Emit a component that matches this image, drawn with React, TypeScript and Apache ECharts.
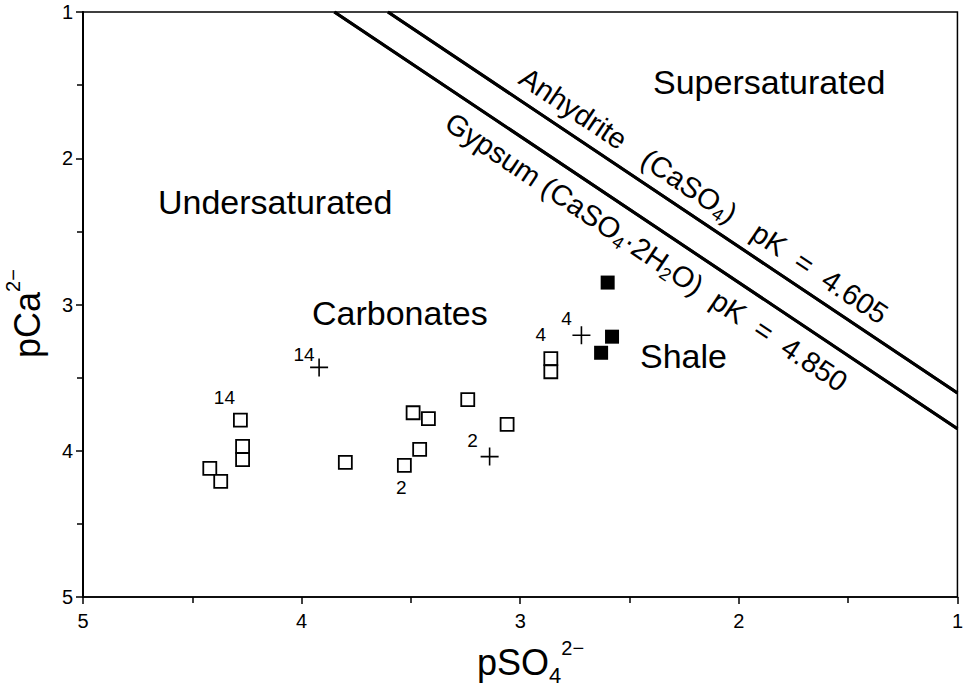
import React, { useEffect, useRef } from "react";
import * as echarts from "echarts";

// Carbonate samples (open squares): pSO4, pCa
const carbonateX = [4.28, 4.27, 4.27, 4.42, 4.37, 3.80, 3.49, 3.42, 3.46, 3.53, 3.24, 3.06, 2.86, 2.86];
const carbonateY = [3.79, 3.97, 4.06, 4.12, 4.21, 4.08, 3.74, 3.78, 3.99, 4.10, 3.65, 3.82, 3.37, 3.46];
const carbonateTag = ["14", "", "", "", "", "", "", "", "", "2", "", "", "4", ""];

// Crosses
const crossX = [3.92, 3.14, 2.72];
const crossY = [3.43, 4.04, 3.21];
const crossTag = ["14", "2", "4"];

// Shale samples (filled squares)
const shaleX = [2.60, 2.58, 2.63];
const shaleY = [2.85, 3.22, 3.33];

// Saturation lines (pCa + pSO4 = pK)
const anhydriteLine = [[3.605, 1], [1, 3.605]];
const gypsumLine = [[3.85, 1], [1, 3.85]];
const anhydriteText = "Anhydrite   (CaSO{s|4})   pK  =  4.605";
const gypsumText = "Gypsum (CaSO{s|4}·2H{s|2}O)  pK  =  4.850";

const axisMin = 1;
const axisMax = 5;
const axisStep = 1;

const FONT = "'Liberation Sans', Arial, Helvetica, sans-serif";

export default function App() {
  const ref = useRef<HTMLDivElement>(null);

  useEffect(() => {
    const chart = echarts.init(ref.current!, null, { renderer: "svg" });

    const tagOffsetSquare: Record<number, [number, number]> = {
      0: [-16, -23],
      9: [-3, 22],
      12: [-10, -24],
    };
    const tagOffsetCross: [number, number][] = [[-15, -13], [-17, -16], [-15, -17]];

    const tagLabel = (text: string, offset: [number, number]) => ({
      show: text !== "",
      formatter: text,
      position: "inside",
      offset,
      color: "#000",
      fontSize: 19,
      fontFamily: FONT,
    });

    const carbonateData = carbonateX.map((x, i) => ({
      value: [x, carbonateY[i]],
      label: tagLabel(carbonateTag[i], tagOffsetSquare[i] || [0, 0]),
    }));
    const crossData = crossX.map((x, i) => ({
      value: [x, crossY[i]],
      label: tagLabel(crossTag[i], tagOffsetCross[i]),
    }));
    const shaleData = shaleX.map((x, i) => [x, shaleY[i]]);

    const axisCommon = {
      type: "value" as const,
      min: axisMin,
      max: axisMax,
      interval: axisStep,
      inverse: true,
      splitLine: { show: false },
      minorSplitLine: { show: false },
      minorTick: { show: true, splitNumber: 2, length: 6, lineStyle: { color: "#000", width: 1.5 } },
      axisTick: { show: true, length: 7, lineStyle: { color: "#000", width: 1.5 } },
    };

    const lineLabelRich = {
      s: { fontSize: 18, lineHeight: 15, verticalAlign: "bottom", fontFamily: FONT, color: "#000" },
    };

    const satSeries = (name: string, pts: number[][], text: string, pos: string, pad: number[], dist: number) => ({
      name,
      type: "line",
      data: pts,
      symbol: "none",
      silent: true,
      lineStyle: { color: "#000", width: 3 },
      markLine: {
        silent: true,
        symbol: ["none", "none"],
        lineStyle: { color: "#000", width: 3, type: "solid" },
        data: [[{ coord: pts[0] }, { coord: pts[1] }]],
        label: {
          show: true,
          position: pos,
          distance: dist,
          formatter: text,
          fontSize: 29,
          lineHeight: 34,
          fontFamily: FONT,
          color: "#000",
          padding: pad,
          rich: lineLabelRich,
        },
      },
    });

    const option: any = {
      animation: false,
      backgroundColor: "#fff",
      grid: {
        left: 83,
        top: 12,
        right: 7,
        bottom: 89,
        show: true,
        borderColor: "#000",
        borderWidth: 1.5,
        backgroundColor: "transparent",
      },
      xAxis: {
        ...axisCommon,
        axisLine: { show: true, onZero: false, lineStyle: { color: "#000", width: 1.5 } },
        axisLabel: { color: "#000", fontSize: 20, fontFamily: FONT, margin: 14 },
      },
      yAxis: {
        ...axisCommon,
        axisLine: { show: true, onZero: false, lineStyle: { color: "#000", width: 2 } },
        axisLabel: { color: "#000", fontSize: 20, fontFamily: FONT, margin: 10 },
      },
      series: [
        satSeries("Anhydrite", anhydriteLine, anhydriteText, "insideMiddleTop", [0, 0, 0, 44], 6),
        satSeries("Gypsum", gypsumLine, gypsumText, "insideMiddleBottom", [0, 0, 0, 36], 9),
        {
          name: "Carbonates",
          type: "scatter",
          symbol: "rect",
          symbolSize: 13,
          itemStyle: { color: "#fff", borderColor: "#000", borderWidth: 1.8, opacity: 1 },
          data: carbonateData,
          z: 3,
        },
        {
          name: "Cross",
          type: "scatter",
          symbol: "path://M0,9L18,9M9,0L9,18",
          symbolSize: 18,
          itemStyle: { color: "transparent", borderColor: "#000", borderWidth: 1.6, opacity: 1 },
          data: crossData,
          z: 3,
        },
        {
          name: "Shale",
          type: "scatter",
          symbol: "rect",
          symbolSize: 14,
          itemStyle: { color: "#000", opacity: 1 },
          data: shaleData,
          z: 3,
        },
      ],
      graphic: [
        {
          type: "text",
          x: 653, y: 82,
          style: { text: "Supersaturated", fontSize: 34, fontFamily: FONT, fill: "#000", verticalAlign: "middle" },
        },
        {
          type: "text",
          x: 158, y: 202,
          style: { text: "Undersaturated", fontSize: 34, fontFamily: FONT, fill: "#000", verticalAlign: "middle" },
        },
        {
          type: "text",
          x: 312, y: 313,
          style: { text: "Carbonates", fontSize: 34, fontFamily: FONT, fill: "#000", verticalAlign: "middle" },
        },
        {
          type: "text",
          x: 640, y: 356,
          style: { text: "Shale", fontSize: 34, fontFamily: FONT, fill: "#000", verticalAlign: "middle" },
        },
        {
          type: "text",
          x: 477, y: 638,
          style: {
            text: "{b|pSO}{s|4}{p|2−}",
            verticalAlign: "top",
            align: "left",
            rich: {
              b: { fontSize: 36, lineHeight: 48, fontFamily: FONT, color: "#000" },
              s: { fontSize: 22, lineHeight: 22, verticalAlign: "bottom", fontFamily: FONT, color: "#000" },
              p: { fontSize: 20, lineHeight: 14, verticalAlign: "top", fontFamily: FONT, color: "#000" },
            },
          },
        },
        {
          type: "text",
          x: 3, y: 358,
          rotation: Math.PI / 2,
          style: {
            text: "{b|pCa}{p|2−}",
            verticalAlign: "top",
            align: "left",
            rich: {
              b: { fontSize: 36, lineHeight: 48, fontFamily: FONT, color: "#000" },
              p: { fontSize: 20, lineHeight: 14, verticalAlign: "top", fontFamily: FONT, color: "#000" },
            },
          },
        },
      ],
    };

    chart.setOption(option);
    return () => chart.dispose();
  }, []);

  return (
    <div
      ref={ref}
      style={{ position: "fixed", left: 0, top: 0, width: 966, height: 686, background: "#fff" }}
    />
  );
}
